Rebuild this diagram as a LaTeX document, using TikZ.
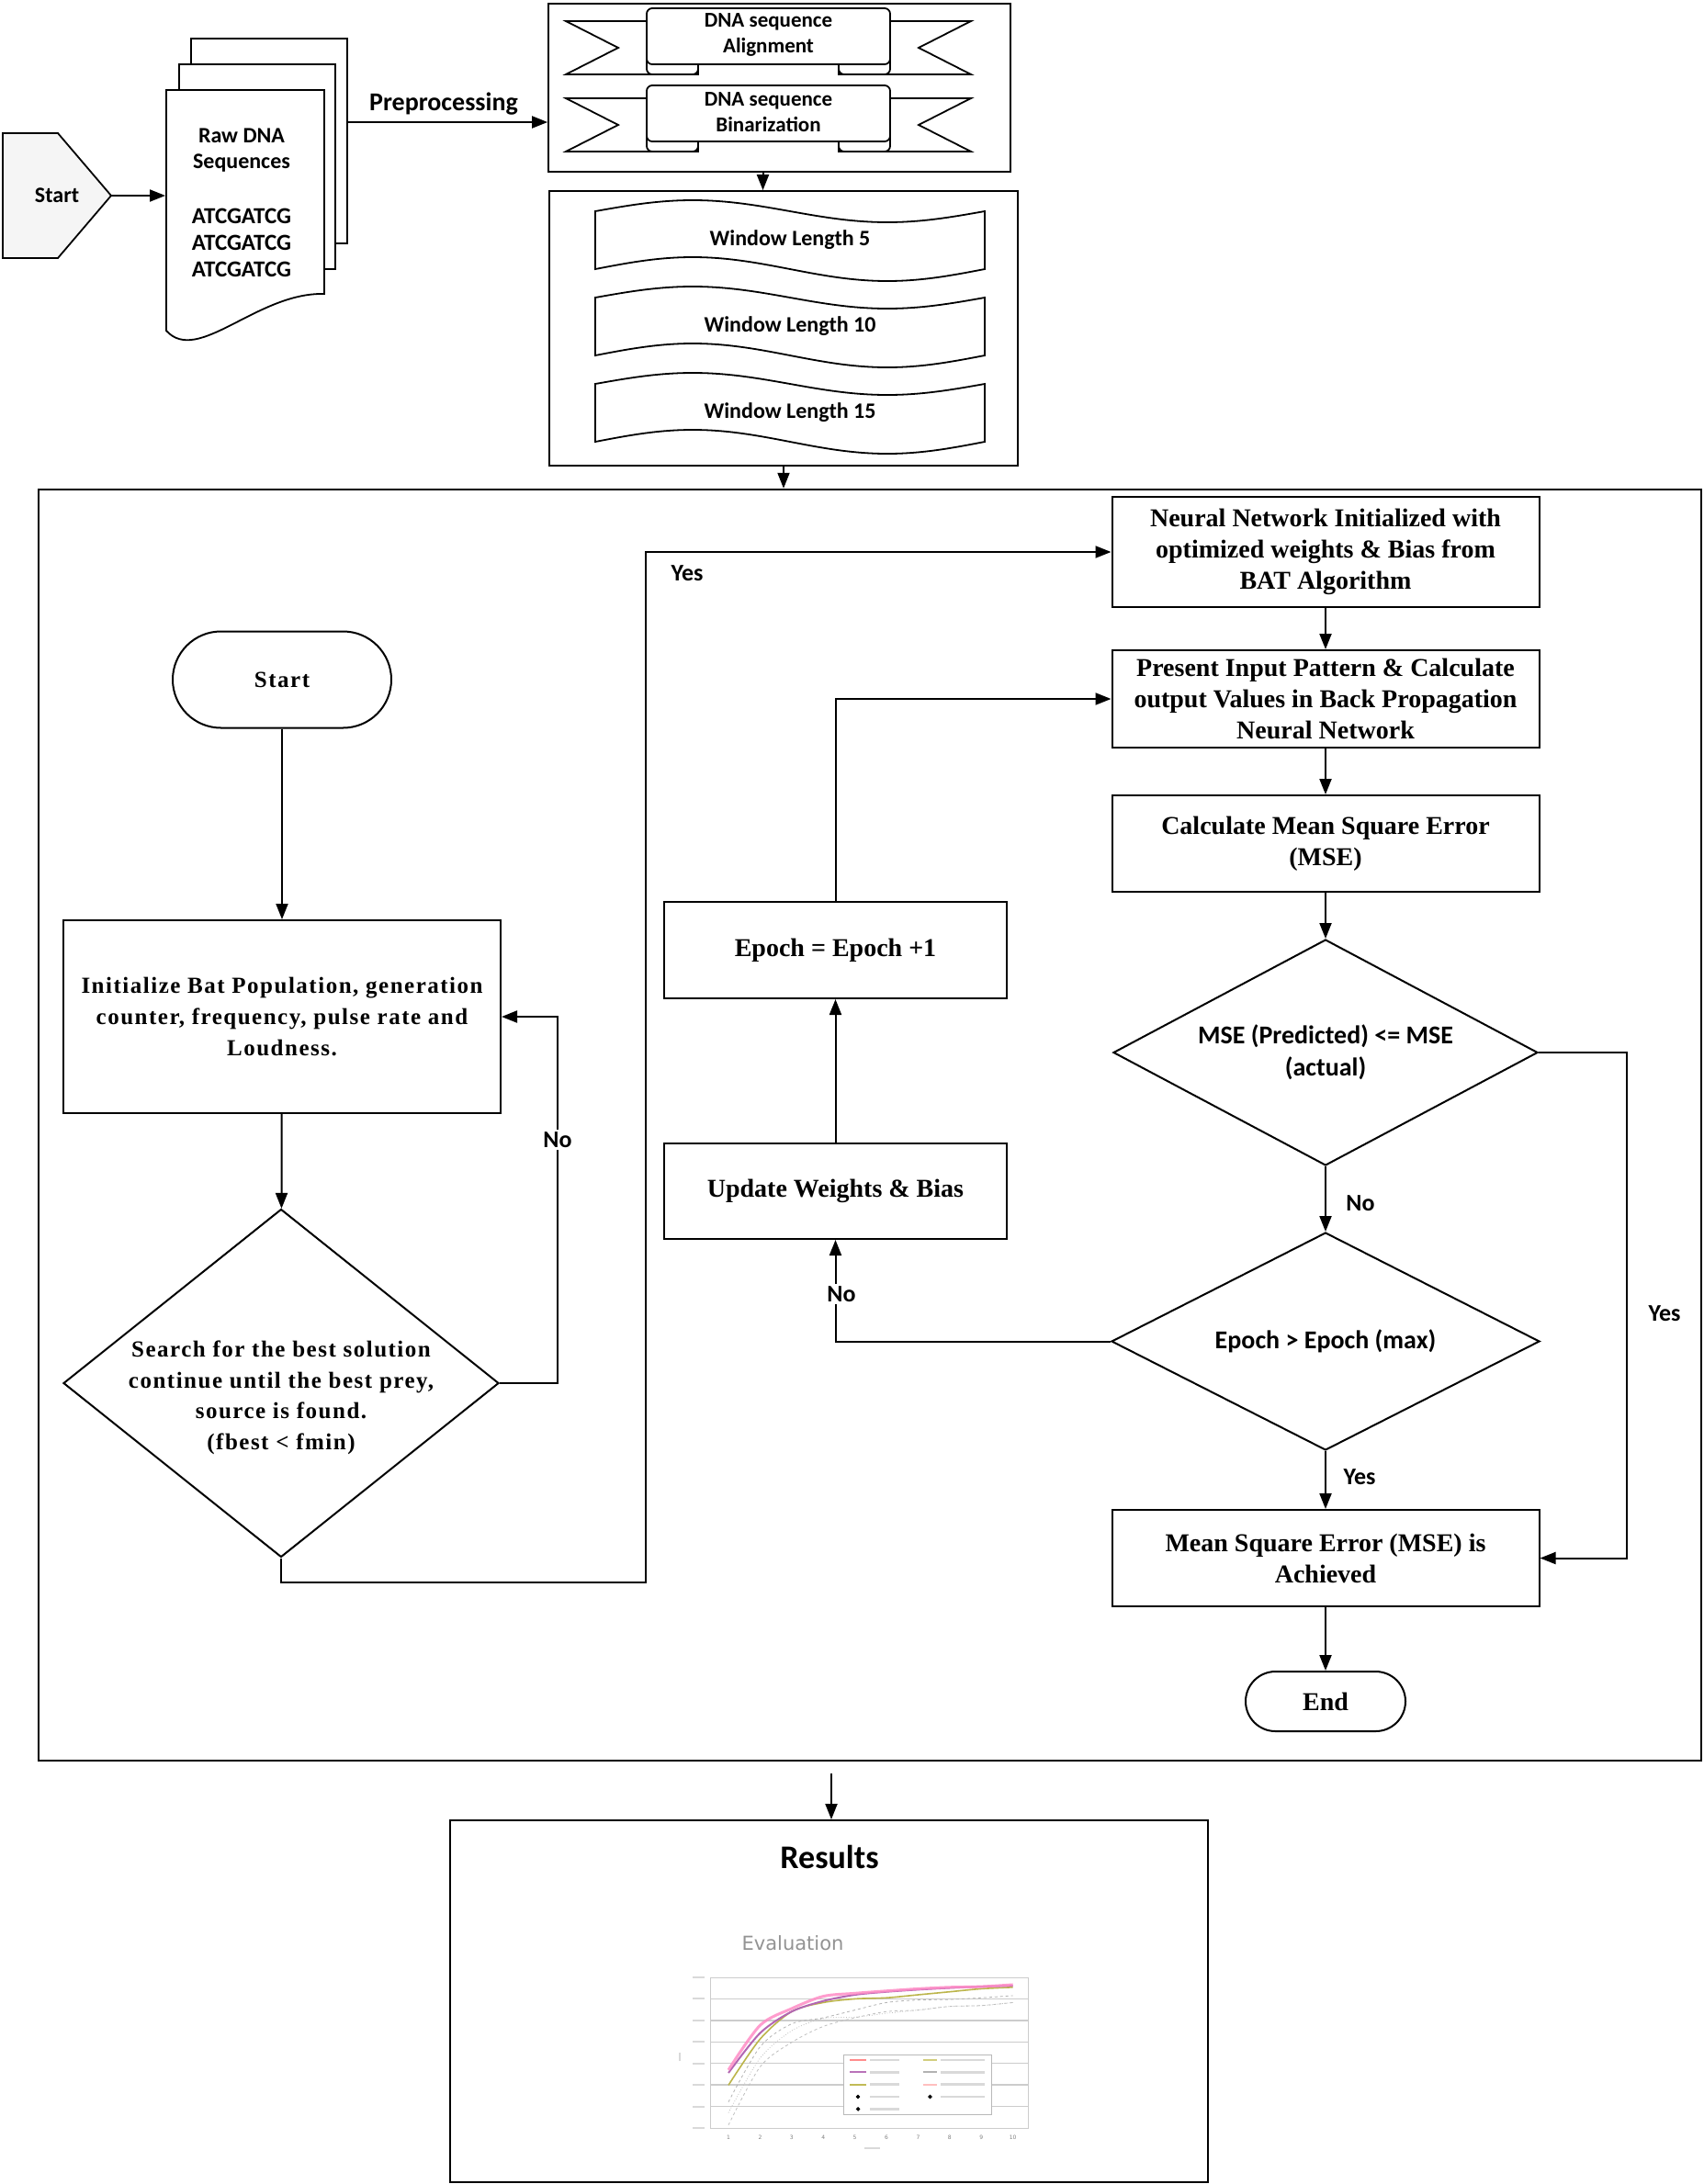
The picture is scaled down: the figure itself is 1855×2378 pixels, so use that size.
\documentclass[tikz,border=0pt]{standalone}
\usepackage{fontspec}
\setmainfont{Liberation Serif}
\newfontfamily\calibfont{Carlito}
\newfontfamily\spacedserif{Liberation Serif}[LetterSpace=6]
\newfontfamily\evalfont{DejaVu Sans}
\usepackage{tikz}
\usetikzlibrary{arrows.meta,shapes.geometric,shapes.misc,positioning,calc}

\tikzset{
  >={Triangle[length=17pt,width=13pt]},
  flowbox/.style={draw, fill=white, line width=2pt, align=center, inner sep=0pt},
  batbox/.style={flowbox, font=\spacedserif\bfseries\fontsize{25}{34}\selectfont},
  nnbox/.style={flowbox, font=\bfseries\fontsize{28}{34}\selectfont},
  sanstext/.style={align=center, inner sep=1pt, font=\calibfont\bfseries\fontsize{23}{28}\selectfont},
  sanslabel/.style={inner sep=2pt, font=\calibfont\bfseries\fontsize{26}{30}\selectfont},
  decision/.style={diamond, draw, fill=white, line width=2pt, inner sep=0pt},
  terminal/.style={rounded rectangle, draw, fill=white, line width=2pt, inner sep=0pt}
}

\begin{document}
\begin{tikzpicture}[x=1pt, y=-1pt, line width=2pt]
  \useasboundingbox (0,0) rectangle (1855,2378);
  %top part: raw data and preprocessing
    \draw[fill=gray!8, line width=1.8pt] (3,145) -- (63,145) -- (121,213) -- (63,281) -- (3,281) -- cycle;
    \node[sanstext, font=\calibfont\bfseries\fontsize{24}{26}\selectfont] (start) at (62,213) {Start};
    \coordinate (starttip) at (121,213);
    \draw[fill=white, line width=1.8pt] (208,42) rectangle (378,265);
    \draw[fill=white, line width=1.8pt] (195,70) rectangle (365,293);
    \draw[fill=white, line width=1.8pt] (181,98) -- (353,98) -- (353,320)
         .. controls (280,318) and (215,398) .. (181,360) -- cycle;
    \node[minimum width=172pt, minimum height=262pt, inner sep=0pt] (rawdoc) at (267,229) {};
    \node[sanstext, font=\calibfont\bfseries\fontsize{24}{28}\selectfont] (rawdna) at (263,164) {Raw DNA\\Sequences};
    \node[sanstext, font=\calibfont\bfseries\fontsize{25}{29}\selectfont] (seqs) at (263,264) {ATCGATCG\\ATCGATCG\\ATCGATCG};
    \coordinate (docback) at (378,133);
    \node[flowbox, line width=1.8pt, minimum width=503pt, minimum height=183pt] (prepbox) at (848.5,95.5) {};
    \node[sanslabel, font=\calibfont\bfseries\fontsize{28}{30}\selectfont] (preplabel) at (483,113) {Preprocessing};
    \draw[->] (starttip) -- (starttip -| rawdoc.west);
    \draw[->] (docback) -- (docback -| prepbox.west);
  %ribbons
    \foreach \dy/\lab in {0/Alignment, 84/Binarization}{
      \begin{scope}[shift={(0,\dy)}, line width=1.8pt]
        \draw[fill=white] (704,23) -- (616,23) -- (673,52) -- (616,81) -- (760,81) -- (760,23) -- cycle;
        \draw[fill=white] (969,23) -- (1057,23) -- (1000,52) -- (1057,81) -- (913,81) -- (913,23) -- cycle;
        \draw[fill=white, rounded corners=6pt] (704,58) rectangle (760,81);
        \draw[fill=white, rounded corners=6pt] (913,58) rectangle (969,81);
        \draw[fill=white, rounded corners=6pt] (704,9) rectangle (969,70);
        \node[sanstext] (dna\dy) at (836.5,38) {DNA sequence\\\lab};
      \end{scope}
    }
  %window lengths
    \node[flowbox, line width=1.8pt, minimum width=510pt, minimum height=299pt] (winbox) at (853,357.5) {};
    \foreach \dy/\len in {0/5, 94/10, 188/15}{
      \begin{scope}[shift={(0,\dy)}, line width=1.8pt]
        \draw[fill=white] (648,230) sin (754,218) cos (860,230) sin (966,242) cos (1072,230)
             -- (1072,293) sin (966,306) cos (860,293) sin (754,280) cos (648,293) -- cycle;
        \node[sanstext, font=\calibfont\bfseries\fontsize{24}{26}\selectfont] (win\len) at (860,261) {Window Length \len};
      \end{scope}
    }
    \draw[->] ([xshift=-18pt]prepbox.south) -- ([xshift=-18pt]prepbox.south |- winbox.north);
  %main frame
    \node[draw, line width=2.5pt, minimum width=1810pt, minimum height=1384pt, inner sep=0pt] (mainbox) at (947,1225) {};
    \draw[->] (winbox.south) -- (winbox.south |- mainbox.north);
  %bat algorithm
    \node[terminal, minimum width=238pt, minimum height=105pt, font=\spacedserif\bfseries\fontsize{25}{30}\selectfont] (lstart) at (307,740) {Start};
    \node[batbox, minimum width=476pt, minimum height=210pt] (init) at (307,1107)
         {Initialize Bat Population, generation\\counter, frequency, pulse rate and\\Loudness.};
    \node[decision, minimum width=474pt, minimum height=379pt] (search) at (306,1506) {};
    \node[align=center, font=\spacedserif\bfseries\fontsize{25}{33.5}\selectfont] (searchtxt) at (306,1522)
         {Search for the best solution\\continue until the best prey,\\source is found.\\(fbest < fmin)};
  %neural network
    \node[nnbox, minimum width=465pt, minimum height=120pt] (nninit) at (1443,601)
         {Neural Network Initialized with\\optimized weights \& Bias from\\BAT Algorithm};
    \node[nnbox, minimum width=465pt, minimum height=106pt] (present) at (1443,761)
         {Present Input Pattern \& Calculate\\output Values in Back Propagation\\Neural Network};
    \node[nnbox, minimum width=465pt, minimum height=105pt] (msecalc) at (1443,918.5)
         {Calculate Mean Square Error\\(MSE)};
    \node[decision, minimum width=462pt, minimum height=246pt] (msedia) at (1443,1146) {};
    \node[sanstext, font=\calibfont\bfseries\fontsize{28}{35}\selectfont] (msetxt) at (1443,1146) {MSE (Predicted) <= MSE\\(actual)};
    \node[decision, minimum width=466pt, minimum height=237pt] (epochdia) at (1443,1460.5) {};
    \node[sanstext, font=\calibfont\bfseries\fontsize{28}{35}\selectfont] (epochtxt) at (1443,1460.5) {Epoch > Epoch (max)};
    \node[nnbox, minimum width=465pt, minimum height=105pt] (achieved) at (1443,1696.5)
         {Mean Square Error (MSE) is\\Achieved};
    \node[terminal, minimum width=174pt, minimum height=65pt, font=\bfseries\fontsize{28}{30}\selectfont] (finish) at (1443,1852.5) {End};
    \node[nnbox, minimum width=373pt, minimum height=105pt] (epoch1) at (909.5,1034.5) {Epoch = Epoch +1};
    \node[nnbox, minimum width=373pt, minimum height=104pt] (update) at (909.5,1297) {Update Weights \& Bias};
  %connectors
    \draw[->] (lstart) -- (init);
    \draw[->] (init) -- (search);
    \draw[->] (search.east) -- ++(63,0) |- (init.east);
    \draw[->] (search.south) |- (703,1723) |- (nninit.west);
    \draw[->] (nninit) -- (present);
    \draw[->] (present) -- (msecalc);
    \draw[->] (msecalc) -- (msedia);
    \draw[->] (msedia) -- (epochdia);
    \draw[->] (msedia.east) -- ++(96,0) |- (achieved.east);
    \draw[->] (epochdia) -- (achieved);
    \draw[->] (achieved) -- (finish);
    \draw[->] (epochdia.west) -| (update.south);
    \draw[->] (update) -- (epoch1);
    \draw[->] (epoch1.north) |- (present.west);
  %yes/no labels
    \node[sanslabel, fill=white] (nobat) at (607,1241) {No};
    \node[sanslabel] (yesbat) at (748,624) {Yes};
    \node[sanslabel] (nomse) at (1481,1310) {No};
    \node[sanslabel] (yesmse) at (1812,1430) {Yes};
    \node[sanslabel] (yesepoch) at (1480,1608) {Yes};
    \node[sanslabel, fill=white] (noepoch) at (916,1409) {No};
  %results
    \node[flowbox, minimum width=825pt, minimum height=394pt] (results) at (902.5,2179) {};
    \coordinate (mainout) at (905,1931);
    \draw[->] (mainout) -- (mainout |- results.north);
    \node[font=\calibfont\bfseries\fontsize{36}{40}\selectfont] (restitle) at (903,2022) {Results};
    \node[font=\evalfont\fontsize{21}{24}\selectfont, text=gray!85] (evaltitle) at (863,2116) {Evaluation};
    \begin{scope}[shift={(793,2317)}, x=34.4pt, y=23.43pt, line width=0.8pt]
      \draw[gray!40, line width=1pt] (-0.58,0) rectangle (9.48,7);
      \foreach \k in {1,...,6}
        \draw[gray!40, line width=1.5pt] (-0.58,\k) -- (9.48,\k);
      \foreach \k in {0,...,7}
        \draw[gray!30, line width=2pt] (-1.12,\k) -- (-0.75,\k);
      \draw[gray!30, line width=2pt] (-1.55,3.1) -- (-1.55,3.5);
      \draw[gray!30, line width=2pt] (4.3,-0.95) -- (4.8,-0.95);
      \foreach \i in {1,...,10}
        \node[font=\evalfont\fontsize{6}{6}\selectfont, text=gray] (xt\i) at (\i-1,-0.45) {\i};
      \draw[gray!60, dashed] plot[smooth, mark=square*, mark size=2.4pt, mark options={black, solid}]
           coordinates {(0,1.21) (1,3.77) (2,4.84) (3,5.12) (4,5.48) (5,5.83) (6,5.95) (7,5.97) (8,6.05) (9,6.15)};
      \draw[gray!50, dotted] plot[smooth, mark=triangle*, mark size=2.4pt, mark options={black, solid}]
           coordinates {(0,0.71) (1,3.24) (2,4.52) (3,5.09) (4,5.15) (5,5.33) (6,5.48) (7,5.65) (8,5.69) (9,5.83)};
      \draw[gray!50, dashed] plot[smooth, mark=square*, mark size=2.4pt, mark options={black, solid}]
           coordinates {(0,0.14) (1,2.84) (2,3.98) (3,4.72) (4,5.12) (5,5.41) (6,5.48) (7,5.65) (8,5.69) (9,5.83)};
      \draw[olive!60, line width=1.6pt] plot[smooth]
           coordinates {(0,1.99) (1,4.13) (2,5.41) (3,5.83) (4,6.00) (5,6.05) (6,6.19) (7,6.33) (8,6.47) (9,6.54)};
      \draw[violet!60, line width=2pt] plot[smooth]
           coordinates {(0,2.56) (1,4.41) (2,5.41) (3,5.90) (4,6.19) (5,6.33) (6,6.43) (7,6.51) (8,6.57) (9,6.61)};
      \draw[red!50!magenta!45, line width=3pt, opacity=0.85] plot[smooth]
           coordinates {(0,2.70) (1,4.77) (2,5.55) (3,6.12) (4,6.26) (5,6.37) (6,6.47) (7,6.54) (8,6.57) (9,6.66)};
      %legend
      \draw[gray!55, fill=white, line width=1pt] (3.66,0.6) rectangle (8.34,3.41);
      \foreach \r/\c in {3.16/red!45, 2.59/violet!55, 2.02/olive!55}{
        \draw[\c, line width=2pt] (3.84,\r) -- (4.36,\r);
        \draw[gray!30, line width=2.5pt] (4.48,\r) -- (5.4,\r);
      }
      \foreach \r/\c in {3.16/olive!40, 2.59/gray!60, 2.02/pink}{
        \draw[\c, line width=2pt] (6.16,\r) -- (6.6,\r);
        \draw[gray!30, line width=2.5pt] (6.72,\r) -- (8.1,\r);
      }
      \foreach \r in {1.45, 0.88}{
        \draw[black, fill=black] (4.1,\r) circle (1.8pt);
        \draw[gray!30, line width=2.5pt] (4.48,\r) -- (5.4,\r);
      }
      \draw[black, fill=black] (6.38,1.45) circle (1.8pt);
      \draw[gray!30, line width=2.5pt] (6.72,1.45) -- (8.1,1.45);
    \end{scope}
\end{tikzpicture}
\end{document}
